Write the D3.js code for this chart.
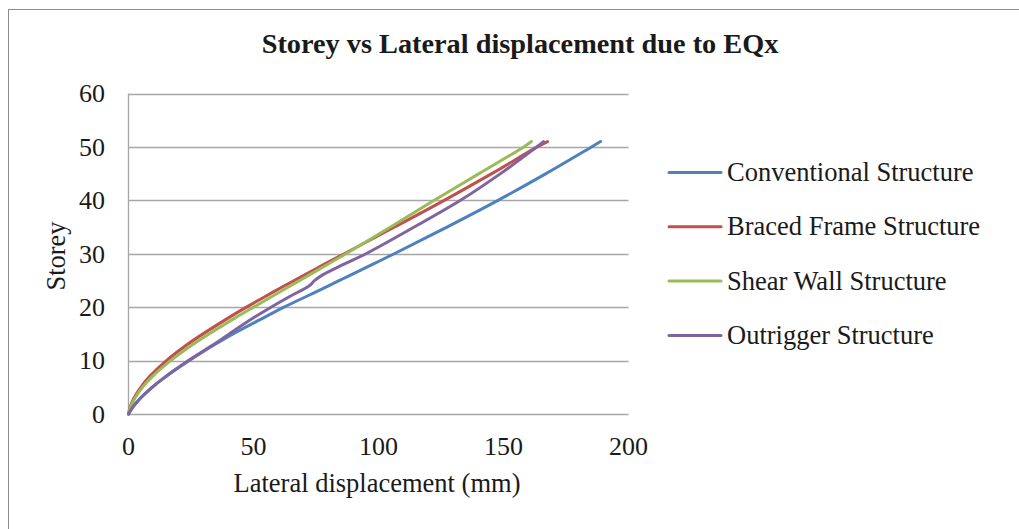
<!DOCTYPE html>
<meta charset="utf-8">
<title>Storey vs Lateral displacement</title>
<style>
  body { margin: 0; background: #fff; }
  svg { display: block; font-family: "Liberation Serif", "Times New Roman", serif; }
</style>
<div id="viz"></div>
<script src="https://cdnjs.cloudflare.com/ajax/libs/d3/7.8.5/d3.min.js"></script>
<script>

// storey levels shared by all series
var storeys = [0, 1, 2, 3, 5, 7, 10, 13, 15, 18, 20, 22, 24, 25, 26, 28, 30, 35, 40, 45, 50, 51];

// lateral displacement (mm) at each storey
var conventional = [0, 1.3, 3, 4.9, 9.5, 15, 24.3, 34.5, 41.8, 54, 62.2, 71.1, 80, 84.4, 88.8, 97.6, 106.3, 127.4, 147.8, 167, 185.2, 188.8];
var braced       = [0, 0.5, 1.2, 2.2, 4.9, 8.4, 15.2, 23.5, 29.8, 40, 47.2, 54.7, 62.4, 66.3, 70.3, 78.2, 86.3, 106.4, 126.3, 145.3, 163.5, 167.6];
var shearWall    = [0, 0.6, 1.5, 2.6, 5.6, 9.5, 16.9, 25.7, 32.2, 42.7, 50, 57.4, 64.8, 68.5, 72.2, 79.6, 87, 104.8, 122.3, 140.2, 158.1, 161.2];
var outrigger    = [0, 1.3, 2.9, 4.8, 9.4, 14.8, 24, 34, 40.3, 50, 57, 64.5, 72.3, 74.5, 77.5, 86, 95, 114.3, 132.8, 148.8, 163.3, 166];

var seriesNames = ["Conventional Structure", "Braced Frame Structure", "Shear Wall Structure", "Outrigger Structure"];
var seriesColors = ["#4F81BD", "#C0504D", "#9BBB59", "#8064A2"];

var xTicks = [0, 50, 100, 150, 200];
var yTicks = [0, 10, 20, 30, 40, 50, 60];

var width = 1019;
var height = 529;

var svg = d3.select("#viz")
  .append("svg")
  .attr("width", width)
  .attr("height", height);

// outer chart border (runs off the right and bottom of the picture)
svg.append("rect")
  .attr("x", 8.5)
  .attr("y", 9.5)
  .attr("width", 1030)
  .attr("height", 540)
  .attr("fill", "none")
  .attr("stroke", "#8c8c8c")
  .attr("stroke-width", 1);

var x = d3.scaleLinear().domain([0, 200]).range([128.5, 628.5]);
var y = d3.scaleLinear().domain([0, 60]).range([414, 93.5]);

// gridlines
svg.append("g")
  .selectAll("line")
  .data(yTicks)
  .enter().append("line")
  .attr("x1", x(0))
  .attr("x2", x(200))
  .attr("y1", function(d) { return Math.round(y(d)) + 0.5; })
  .attr("y2", function(d) { return Math.round(y(d)) + 0.5; })
  .attr("stroke", "#a6a6a6")
  .attr("stroke-width", 1.3);

// y axis line
svg.append("line")
  .attr("x1", x(0)).attr("x2", x(0))
  .attr("y1", y(60)).attr("y2", y(0))
  .attr("stroke", "#a6a6a6")
  .attr("stroke-width", 1.3);

// tick labels
svg.append("g")
  .selectAll("text")
  .data(yTicks)
  .enter().append("text")
  .attr("x", 105)
  .attr("y", function(d) { return y(d); })
  .attr("dy", "0.34em")
  .attr("text-anchor", "end")
  .attr("font-size", 26)
  .attr("fill", "#1a1a1a")
  .text(function(d) { return d; });

svg.append("g")
  .selectAll("text")
  .data(xTicks)
  .enter().append("text")
  .attr("x", function(d) { return x(d); })
  .attr("y", 455)
  .attr("text-anchor", "middle")
  .attr("font-size", 26)
  .attr("fill", "#1a1a1a")
  .text(function(d) { return d; });

// titles
svg.append("text")
  .attr("x", 520)
  .attr("y", 53)
  .attr("text-anchor", "middle")
  .attr("font-size", 28.3)
  .attr("font-weight", "bold")
  .attr("fill", "#1a1a1a")
  .text("Storey vs Lateral displacement due to EQx");

svg.append("text")
  .attr("x", 377)
  .attr("y", 491.5)
  .attr("text-anchor", "middle")
  .attr("font-size", 26.5)
  .attr("fill", "#1a1a1a")
  .text("Lateral displacement (mm)");

svg.append("text")
  .attr("transform", "translate(65,256) rotate(-90)")
  .attr("text-anchor", "middle")
  .attr("font-size", 26.5)
  .attr("fill", "#1a1a1a")
  .text("Storey");

// series lines
var allSeries = [conventional, braced, shearWall, outrigger];

var line = d3.line()
  .x(function(d) { return x(d[0]); })
  .y(function(d) { return y(d[1]); })
  .curve(d3.curveCatmullRom.alpha(0.5));

svg.append("g")
  .selectAll("path")
  .data(allSeries)
  .enter().append("path")
  .attr("d", function(vals) {
    return line(vals.map(function(v, i) { return [v, storeys[i]]; }));
  })
  .attr("fill", "none")
  .attr("stroke", function(d, i) { return seriesColors[i]; })
  .attr("stroke-width", 3)
  .attr("stroke-linecap", "round")
  .attr("stroke-linejoin", "round");

// legend
var legend = svg.append("g")
  .selectAll("g")
  .data(seriesNames)
  .enter().append("g")
  .attr("transform", function(d, i) { return "translate(0," + (172.5 + i * 54.3) + ")"; });

legend.append("line")
  .attr("x1", 669)
  .attr("x2", 721)
  .attr("stroke", function(d, i) { return seriesColors[i]; })
  .attr("stroke-width", 3)
  .attr("stroke-linecap", "round");

legend.append("text")
  .attr("x", 727)
  .attr("dy", "0.32em")
  .attr("font-size", 26.5)
  .attr("fill", "#1a1a1a")
  .text(function(d) { return d; });

</script>
